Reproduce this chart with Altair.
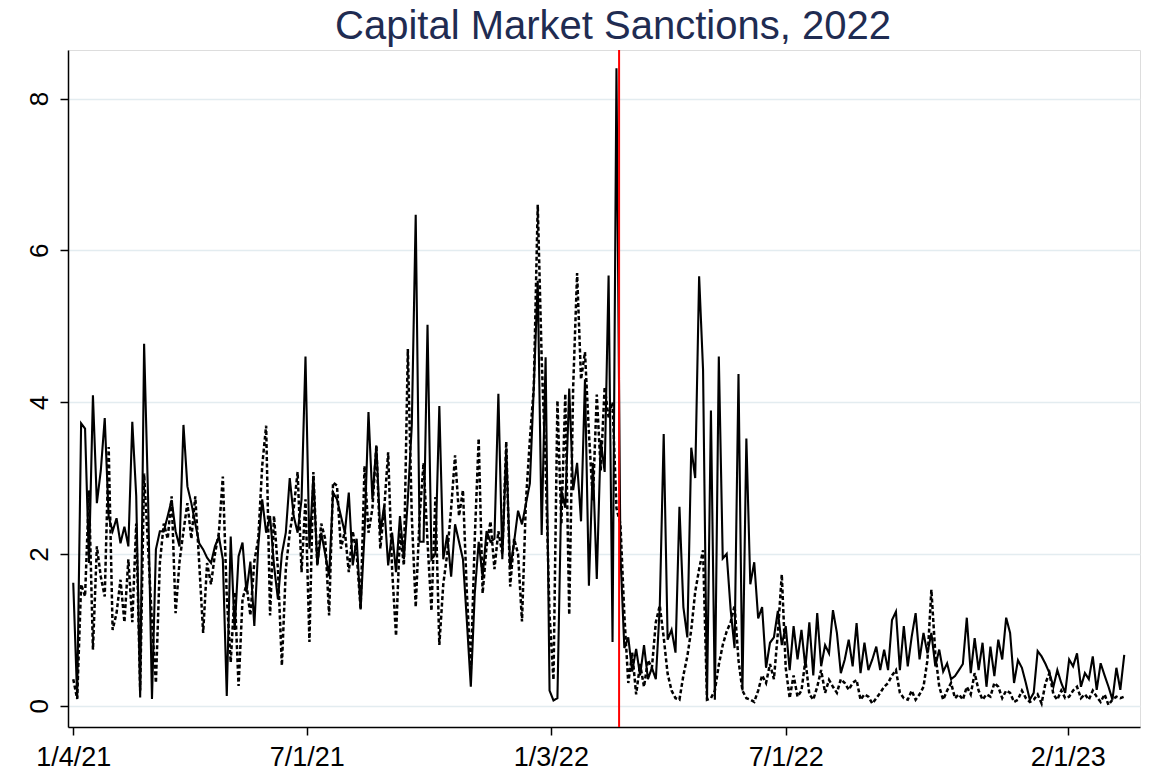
import altair as alt
import pandas as pd

# ---- data (3-day sampling from 1/4/21) ----
start_date = "2021-01-04"
step_days = 3
event_date = "2022-02-24"

solid = [
    1.62, 0.1, 3.72, 3.65, 1.88, 4.09, 2.67, 3.1, 3.79, 2.49,
    2.3, 2.47, 2.14, 2.36, 2.1, 3.74, 2.76, 0.11, 4.77, 2.76,
    0.09, 2.06, 2.3, 2.3, 2.5, 2.71, 2.3, 2.1, 3.7, 2.89,
    2.67, 2.4, 2.14, 2.06, 1.95, 1.88, 2.1, 2.23, 1.93, 0.13,
    2.23, 1.0, 1.97, 2.15, 1.5, 1.9, 1.05, 2.1, 2.72, 2.28,
    2.5, 1.85, 1.4, 2.0, 2.28, 3.0, 2.5, 2.28, 2.72, 4.6,
    2.07, 3.03, 1.85, 2.28, 2.0, 1.71, 2.81, 2.72, 2.5, 2.28,
    2.81, 1.85, 2.2, 1.27, 2.28, 3.87, 2.72, 3.43, 2.28, 2.64,
    1.85, 2.28, 1.76, 2.5, 1.93, 2.72, 3.69, 6.47, 2.16, 2.16,
    5.02, 1.93, 2.0, 3.95, 1.93, 2.25, 1.7, 2.39, 2.16, 1.93,
    1.11, 0.25, 1.48, 2.16, 1.7, 2.3, 2.16, 2.2, 4.11, 1.93,
    3.39, 1.8, 2.16, 2.57, 2.39, 2.66, 2.93, 4.2, 5.6, 2.25,
    4.59, 0.2, 0.07, 0.1, 2.84, 2.61, 4.18, 2.84, 3.2, 2.43,
    4.3, 1.58, 3.2, 1.67, 3.5, 3.08, 5.67, 0.84, 8.4, 2.0,
    0.76, 0.9, 0.45, 0.75, 0.4, 0.8, 0.35, 0.5, 0.35, 1.3,
    3.58, 0.87, 1.0, 0.7, 2.62, 1.3, 0.9, 3.4, 3.0, 5.66,
    4.42, 0.08, 3.89, 0.08, 4.6, 1.94, 2.0, 1.27, 0.76, 4.37,
    0.2, 3.52, 1.6, 1.89, 1.15, 1.3, 0.5, 0.83, 0.9, 1.25,
    0.8, 1.05, 0.47, 1.05, 0.61, 1.0, 0.5, 1.1, 0.4, 1.22,
    0.52, 0.8, 0.69, 1.26, 0.96, 0.43, 0.61, 0.87, 0.52, 1.09,
    0.43, 0.83, 0.47, 0.61, 0.78, 0.47, 0.74, 0.47, 1.13, 1.24,
    0.47, 1.05, 0.52, 0.91, 1.22, 0.61, 0.96, 0.69, 0.96, 0.52,
    0.74, 0.45, 0.56, 0.35, 0.39, 0.47, 0.55, 1.16, 0.43, 0.89,
    0.47, 0.83, 0.25, 0.78, 0.39, 0.87, 0.61, 1.16, 0.96, 0.3,
    0.6, 0.5, 0.3, 0.08, 0.17, 0.72, 0.65, 0.55, 0.43, 0.25,
    0.47, 0.3, 0.17, 0.61, 0.52, 0.69, 0.25, 0.43, 0.35, 0.65,
    0.21, 0.56, 0.4, 0.25, 0.08, 0.5, 0.21, 0.67,
]

dashed = [
    0.35, 0.09, 1.6, 1.44, 2.84, 0.74, 2.1, 1.7, 1.44, 3.41,
    1.0, 1.22, 1.66, 1.1, 1.93, 1.1, 2.4, 0.2, 3.06, 2.1,
    1.1, 0.3, 1.88, 2.4, 2.2, 2.76, 1.22, 1.9, 2.3, 2.67,
    2.2, 2.76, 1.88, 0.96, 1.88, 1.6, 2.0, 2.28, 3.02, 1.44,
    0.57, 1.5, 0.26, 1.4, 1.6, 1.19, 1.9, 2.2, 3.16, 3.69,
    1.19, 2.5, 1.8, 0.53, 1.8, 2.28, 2.6, 3.08, 1.76, 2.72,
    0.84, 3.08, 1.85, 2.4, 2.2, 1.19, 2.94, 2.9, 2.07, 2.3,
    1.76, 2.3, 2.0, 1.27, 3.16, 2.28, 2.6, 3.43, 2.07, 2.6,
    3.34, 1.8, 0.92, 2.28, 1.85, 4.7, 2.5, 1.3, 2.5, 3.2,
    2.16, 1.25, 2.75, 0.8, 1.6, 2.0, 2.6, 3.3, 2.5, 2.84,
    1.48, 0.48, 2.2, 3.52, 1.48, 2.1, 2.43, 1.8, 2.3, 2.0,
    3.48, 1.57, 2.2, 2.0, 1.11, 2.7, 3.5, 4.2, 6.6, 4.57,
    3.16, 1.2, 0.34, 4.02, 2.39, 4.11, 1.2, 4.2, 5.7, 4.3,
    4.66, 3.6, 2.7, 4.1, 3.1, 4.2, 3.8, 4.0, 2.6, 2.4,
    1.2, 0.3, 0.7, 0.15, 0.55, 0.25, 0.6, 0.5, 1.1, 1.32,
    0.9, 0.42, 0.2, 0.1, 0.08, 0.4, 0.65, 1.0, 1.5, 1.8,
    2.05, 0.08, 0.1, 0.2, 0.54, 0.8, 0.98, 1.1, 1.32, 0.6,
    0.2, 0.1, 0.08, 0.05, 0.2, 0.4, 0.3, 0.55, 0.35, 0.96,
    1.73, 0.5, 0.1, 0.4, 0.12, 0.2, 0.6, 0.15, 0.08, 0.25,
    0.47, 0.17, 0.34, 0.25, 0.17, 0.35, 0.3, 0.21, 0.3, 0.34,
    0.08, 0.15, 0.12, 0.03, 0.1, 0.17, 0.25, 0.3, 0.4, 0.47,
    0.17, 0.1, 0.08, 0.2, 0.08, 0.15, 0.25, 0.6, 1.53, 0.69,
    0.25, 0.08, 0.2, 0.3, 0.1, 0.15, 0.08, 0.25, 0.15, 0.43,
    0.2, 0.08, 0.15, 0.12, 0.3, 0.25, 0.1, 0.2, 0.17, 0.05,
    0.08, 0.2, 0.1, 0.05, 0.08, 0.15, 0.03, 0.3, 0.43, 0.15,
    0.08, 0.2, 0.1, 0.12, 0.2, 0.25, 0.1, 0.15, 0.08, 0.2,
    0.12, 0.05, 0.15, 0.01, 0.08, 0.12, 0.1, 0.12,
]

x_tick_dates = [(2021, 1, 4), (2021, 7, 1), (2022, 1, 3), (2022, 7, 1), (2023, 2, 1)]
y_ticks = [0, 2, 4, 6, 8]
title_text = "Capital Market Sanctions, 2022"

dates = pd.date_range(start_date, periods=len(solid), freq=f"{step_days}D")
df = pd.DataFrame({"date": dates.strftime("%Y-%m-%d"), "solid": solid, "dashed": dashed})
ev = pd.DataFrame({"date": [event_date]})
ttl = pd.DataFrame({"t": [title_text]})

FONT = "Liberation Sans"

x_enc = alt.X(
    "date:T",
    scale=alt.Scale(domain=[alt.DateTime(year=2020, month=12, date=31),
                            alt.DateTime(year=2023, month=3, date=28)]),
    axis=alt.Axis(
        values=[alt.DateTime(year=y, month=m, date=d) for (y, m, d) in x_tick_dates],
        format="%-m/%-d/%y", title=None, grid=False,
        labelFontSize=27, labelFont=FONT, labelColor="#000000",
        tickSize=8, tickWidth=1.5, tickColor="#000000",
        domainColor="#000000", domainWidth=1.5, labelPadding=9,
        labelFlush=False,
    ),
)

y_scale = alt.Scale(domain=[-0.28, 8.64], nice=False, zero=False)
y_axis = alt.Axis(
    values=y_ticks, title=None, grid=True, gridColor="#e3ecf0", gridWidth=1.5,
    labelFontSize=26, labelFont=FONT, labelColor="#000000", labelAngle=-90,
    labelAlign="center", labelBaseline="alphabetic", labelPadding=13,
    tickSize=8, tickWidth=1.5, tickColor="#000000",
    domainColor="#000000", domainWidth=1.5,
)

dash_line = alt.Chart(df).mark_line(
    color="#000000", strokeWidth=2.5, strokeDash=[4, 2.5], interpolate="linear"
).encode(x=x_enc, y=alt.Y("dashed:Q", scale=y_scale, axis=y_axis))

solid_line = alt.Chart(df).mark_line(
    color="#000000", strokeWidth=2.1, interpolate="linear"
).encode(x=x_enc, y=alt.Y("solid:Q", scale=y_scale, axis=y_axis))

event_rule = alt.Chart(ev).mark_rule(color="#ff0000", strokeWidth=2).encode(x="date:T")

title_mark = alt.Chart(ttl).mark_text(
    fontSize=40, font=FONT, color="#1f2c52", align="center", baseline="alphabetic"
).encode(text="t:N", x=alt.value(545), y=alt.value(-11))

chart = alt.layer(dash_line, solid_line, event_rule, title_mark).properties(
    width=1072,
    height=677,
    autosize=alt.AutoSizeParams(type="none"),
    padding={"left": 60, "top": 42, "right": 5, "bottom": 43},
).configure_view(stroke=None).configure(background="#ffffff")

chart.save("out.html", embed_options={"renderer": "svg", "actions": False})
